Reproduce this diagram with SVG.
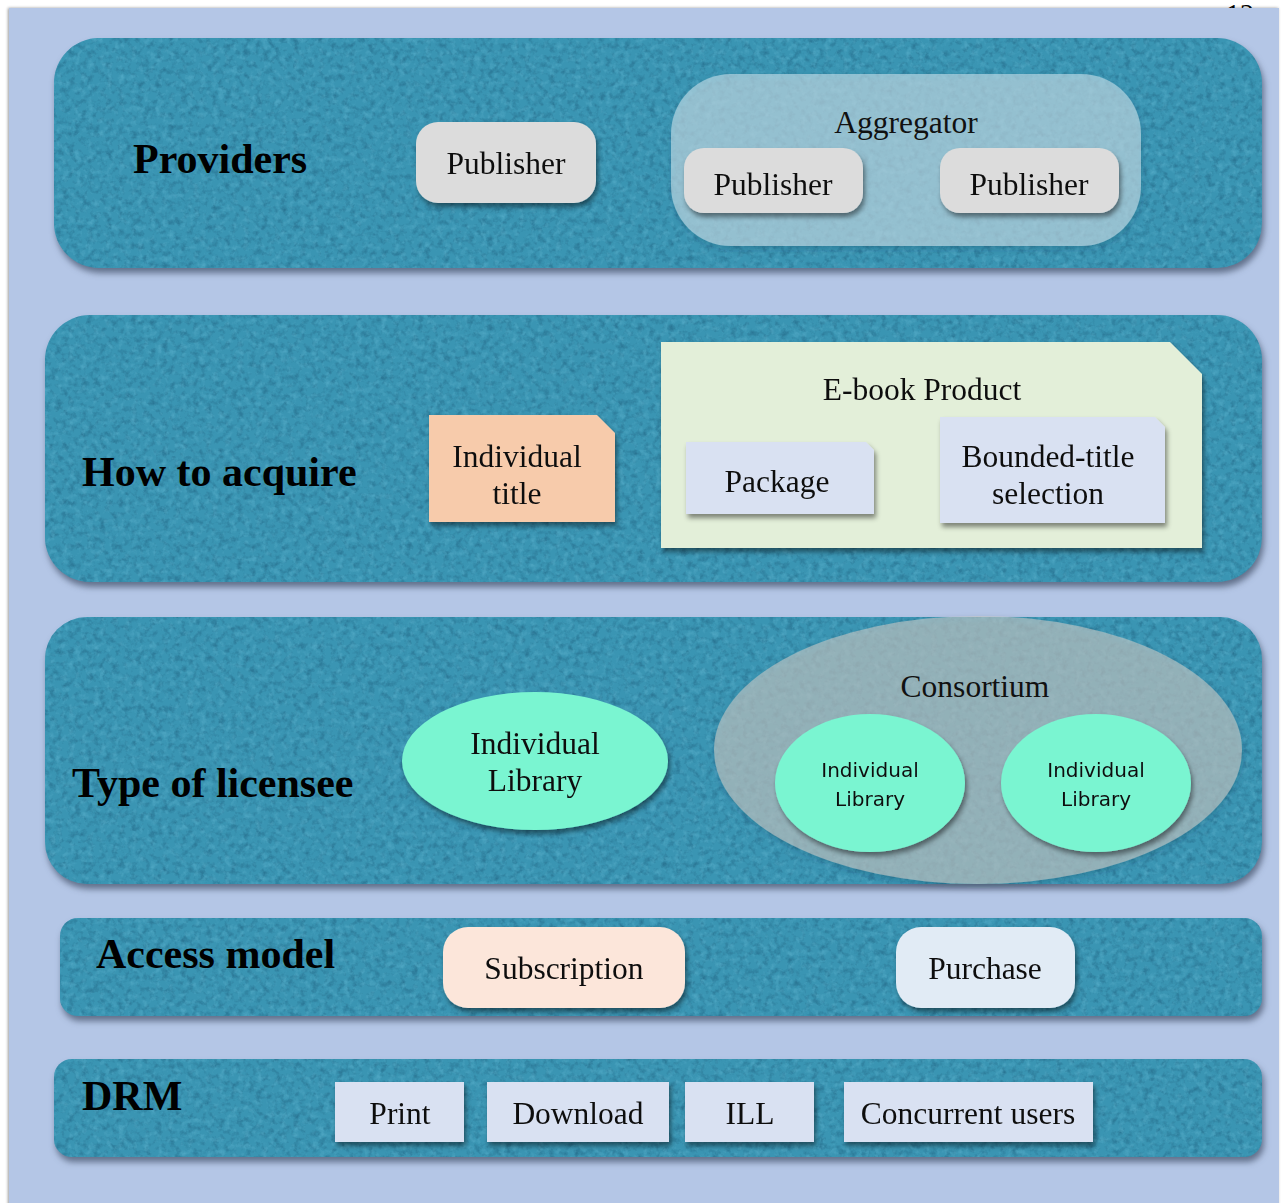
<svg xmlns="http://www.w3.org/2000/svg" width="1281" height="1203" viewBox="0 0 1281 1203">
  <defs>
    <style>
      .band { fill: #3a95b3; filter: url(#felt); }
      .title { font-family: "Liberation Serif", "Times New Roman", serif; font-weight: bold; font-size: 42px; fill: #000; }
      .lbl { font-family: "Liberation Serif", "Times New Roman", serif; font-size: 31.5px; fill: #111; text-anchor: middle; }
      .small { font-family: "DejaVu Sans", "Liberation Sans", sans-serif; font-size: 20px; fill: #111; text-anchor: middle; }
      .node { filter: url(#shadow); }
      .pub { fill: #dcdcdc; }
      .card { fill: #d9e1f2; }
      .lib { fill: #7af5d1; }
    </style>
    <!-- felt-like grain for the teal bands, plus a soft drop shadow -->
    <filter id="felt" x="-3%" y="-5%" width="108%" height="118%" color-interpolation-filters="sRGB">
      <feTurbulence type="fractalNoise" baseFrequency="0.16" numOctaves="3" seed="7" result="noise"/>
      <feColorMatrix in="noise" type="matrix" values="0 0 0 0 0.15  0 0 0 0 0.43  0 0 0 0 0.55  1.8 0 0 0 -0.85" result="dark"/>
      <feColorMatrix in="noise" type="matrix" values="0 0 0 0 0.33  0 0 0 0 0.67  0 0 0 0 0.78  0 1.8 0 0 -0.9" result="light"/>
      <feComposite in="dark" in2="SourceAlpha" operator="in" result="darkIn"/>
      <feComposite in="light" in2="SourceAlpha" operator="in" result="lightIn"/>
      <feDropShadow in="SourceGraphic" dx="2" dy="5" stdDeviation="3" flood-color="#1e2a40" flood-opacity="0.55" result="base"/>
      <feMerge>
        <feMergeNode in="base"/>
        <feMergeNode in="darkIn"/>
        <feMergeNode in="lightIn"/>
      </feMerge>
    </filter>
    <filter id="shadow" x="-10%" y="-15%" width="125%" height="140%">
      <feDropShadow dx="2" dy="4" stdDeviation="2.5" flood-color="#000" flood-opacity="0.45"/>
    </filter>
    <filter id="soft" x="-10%" y="-15%" width="125%" height="140%">
      <feDropShadow dx="1" dy="3" stdDeviation="3" flood-color="#1e2a40" flood-opacity="0.35"/>
    </filter>
    <filter id="pageShadow" x="-2%" y="-2%" width="104%" height="104%">
      <feDropShadow dx="-1" dy="0" stdDeviation="1.5" flood-color="#000" flood-opacity="0.4"/>
    </filter>
  </defs>

  <!-- page, with the slide number peeking above the panel -->
  <rect x="0" y="0" width="1281" height="1203" fill="#ffffff"/>
  <text x="1240" y="23" font-family="Liberation Serif, serif" font-size="28" text-anchor="middle" fill="#000">12</text>
  <rect x="9" y="8" width="1270" height="1200" fill="#b4c6e6" filter="url(#pageShadow)"/>

  <!-- Providers -->
  <g id="providers">
    <rect class="band" x="54" y="38" width="1208" height="230" rx="45"/>
    <text class="title" x="133" y="173">Providers</text>
  </g>
  <g id="publisher-1" class="node">
    <rect class="pub" x="416" y="122" width="180" height="81" rx="22"/>
    <text class="lbl" x="506" y="174">Publisher</text>
  </g>
  <g id="aggregator">
    <rect x="671" y="74" width="470" height="172" rx="60" fill="#c8e0ea" fill-opacity="0.6" filter="url(#soft)"/>
    <text class="lbl" x="906" y="133">Aggregator</text>
  </g>
  <g id="publisher-2" class="node">
    <rect class="pub" x="684" y="148" width="179" height="65" rx="20"/>
    <text class="lbl" x="773" y="195">Publisher</text>
  </g>
  <g id="publisher-3" class="node">
    <rect class="pub" x="940" y="148" width="179" height="65" rx="20"/>
    <text class="lbl" x="1029" y="195">Publisher</text>
  </g>

  <!-- How to acquire -->
  <g id="how-to-acquire">
    <rect class="band" x="45" y="315" width="1217" height="267" rx="45"/>
    <text class="title" x="82" y="486">How to acquire</text>
  </g>
  <g id="individual-title" class="node">
    <polygon points="429,415 597,415 615,433 615,522 429,522" fill="#f7cbab"/>
    <text class="lbl" x="517" y="467">Individual</text>
    <text class="lbl" x="517" y="504">title</text>
  </g>
  <g id="ebook-product" class="node">
    <polygon points="661,342 1170,342 1202,374 1202,548 661,548" fill="#e3efd9"/>
    <text class="lbl" x="922" y="400">E-book Product</text>
  </g>
  <g id="package" class="node">
    <polygon points="686,442 866,442 874,450 874,514 686,514" class="card"/>
    <text class="lbl" x="777" y="492">Package</text>
  </g>
  <g id="bounded-title" class="node">
    <polygon points="940,417 1155,417 1165,427 1165,523 940,523" class="card"/>
    <text class="lbl" x="1048" y="467">Bounded-title</text>
    <text class="lbl" x="1048" y="504">selection</text>
  </g>

  <!-- Type of licensee -->
  <g id="type-of-licensee">
    <rect class="band" x="45" y="617" width="1217" height="267" rx="42"/>
    <text class="title" x="72" y="797">Type of licensee</text>
  </g>
  <g id="individual-library" class="node">
    <ellipse class="lib" cx="535" cy="761" rx="133" ry="69"/>
    <text class="lbl" x="535" y="754">Individual</text>
    <text class="lbl" x="535" y="791">Library</text>
  </g>
  <g id="consortium">
    <ellipse cx="978" cy="750" rx="264" ry="134" fill="#c6c8c4" fill-opacity="0.6" filter="url(#soft)"/>
    <text class="lbl" x="975" y="697">Consortium</text>
  </g>
  <g id="consortium-library-1" class="node">
    <ellipse class="lib" cx="870" cy="783" rx="95" ry="69"/>
    <text class="small" x="870" y="777">Individual</text>
    <text class="small" x="870" y="806">Library</text>
  </g>
  <g id="consortium-library-2" class="node">
    <ellipse class="lib" cx="1096" cy="783" rx="95" ry="69"/>
    <text class="small" x="1096" y="777">Individual</text>
    <text class="small" x="1096" y="806">Library</text>
  </g>

  <!-- Access model -->
  <g id="access-model">
    <rect class="band" x="60" y="918" width="1202" height="98" rx="18"/>
    <text class="title" x="96" y="968">Access model</text>
  </g>
  <g id="subscription" class="node">
    <rect x="443" y="927" width="242" height="81" rx="25" fill="#fce6da"/>
    <text class="lbl" x="564" y="979">Subscription</text>
  </g>
  <g id="purchase" class="node">
    <rect x="896" y="927" width="179" height="81" rx="25" fill="#e1ebf5"/>
    <text class="lbl" x="985" y="979">Purchase</text>
  </g>

  <!-- DRM -->
  <g id="drm">
    <rect class="band" x="54" y="1059" width="1208" height="98" rx="18"/>
    <text class="title" x="82" y="1110">DRM</text>
  </g>
  <g id="print" class="node">
    <rect class="card" x="335" y="1082" width="129" height="60"/>
    <text class="lbl" x="400" y="1124">Print</text>
  </g>
  <g id="download" class="node">
    <rect class="card" x="487" y="1082" width="182" height="60"/>
    <text class="lbl" x="578" y="1124">Download</text>
  </g>
  <g id="ill" class="node">
    <rect class="card" x="685" y="1082" width="129" height="60"/>
    <text class="lbl" x="750" y="1124">ILL</text>
  </g>
  <g id="concurrent-users" class="node">
    <rect class="card" x="844" y="1082" width="249" height="60"/>
    <text class="lbl" x="968" y="1124">Concurrent users</text>
  </g>
</svg>
